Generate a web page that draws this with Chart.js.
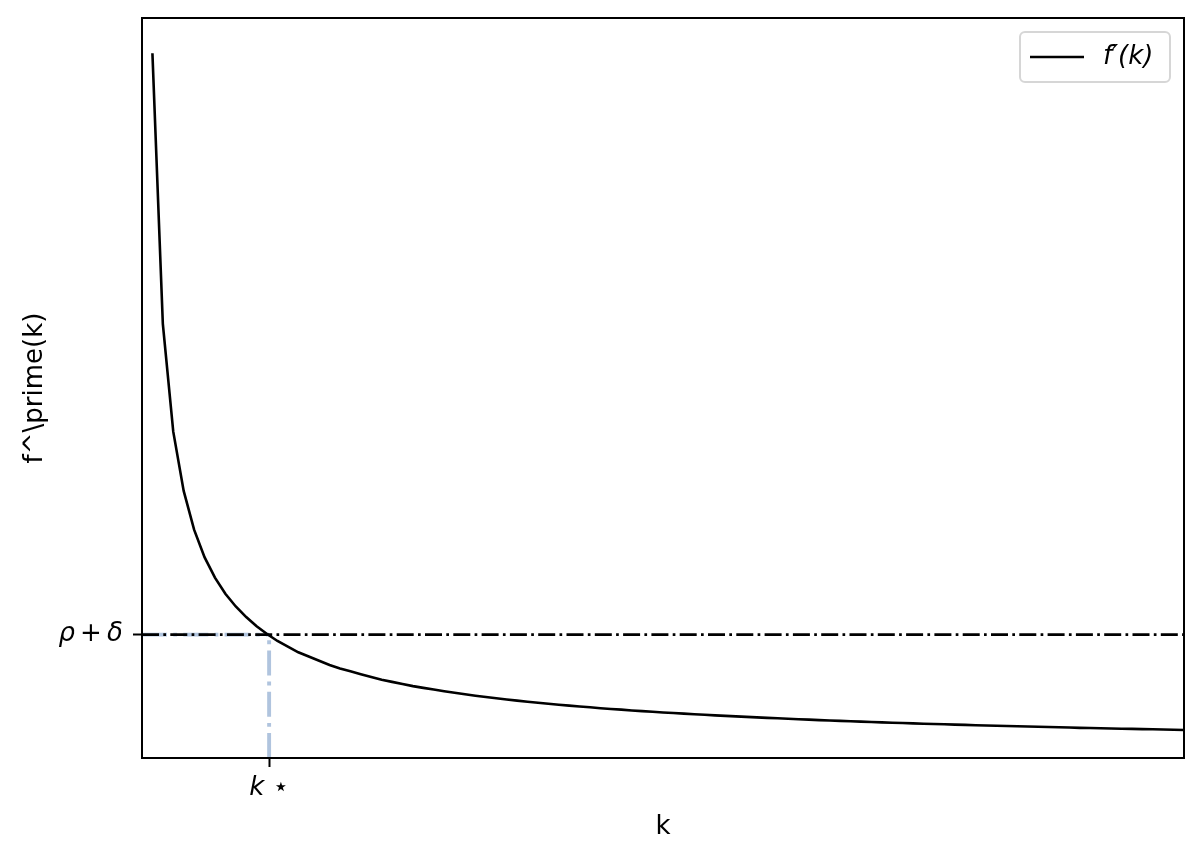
<!DOCTYPE html>
<html>
<head>
<meta charset="utf-8">
<script src="https://cdn.jsdelivr.net/npm/chart.js@4.4.1/dist/chart.umd.min.js"></script>
<style>
  body { margin: 0; background: #fff; }
  #wrap { width: 1202px; height: 861px; }
</style>
</head>
<body>
<div id="wrap"><canvas id="chart" width="1202" height="861"></canvas></div>
<script>
// values (no numbers on the y axis, so relative units: f'(1) = 1)
const kValues = [
  1, 2, 3, 4, 5, 6, 7, 8, 9, 10, 11, 12, 13, 14, 15, 16, 17, 18, 19, 20,
  21, 22, 23, 24, 25, 26, 27, 28, 29, 30, 31, 32, 33, 34, 35, 36, 37, 38, 39, 40,
  41, 42, 43, 44, 45, 46, 47, 48, 49, 50, 51, 52, 53, 54, 55, 56, 57, 58, 59, 60,
  61, 62, 63, 64, 65, 66, 67, 68, 69, 70, 71, 72, 73, 74, 75, 76, 77, 78, 79, 80,
  81, 82, 83, 84, 85, 86, 87, 88, 89, 90, 91, 92, 93, 94, 95, 96, 97, 98, 99, 100
];
const fPrime = [
  1.000, 0.616, 0.463, 0.379, 0.324, 0.285, 0.256, 0.233, 0.215, 0.200,
  0.187, 0.176, 0.166, 0.158, 0.150, 0.144, 0.138, 0.132, 0.127, 0.123,
  0.119, 0.115, 0.111, 0.108, 0.105, 0.102, 0.0995, 0.0971, 0.0947, 0.0925,
  0.0904, 0.0884, 0.0865, 0.0847, 0.0830, 0.0814, 0.0799, 0.0784, 0.0769, 0.0756,
  0.0743, 0.0731, 0.0719, 0.0707, 0.0696, 0.0686, 0.0675, 0.0665, 0.0656, 0.0646,
  0.0638, 0.0629, 0.0621, 0.0613, 0.0605, 0.0598, 0.0590, 0.0583, 0.0576, 0.0569,
  0.0563, 0.0557, 0.0550, 0.0544, 0.0538, 0.0533, 0.0527, 0.0521, 0.0516, 0.0511,
  0.0506, 0.0501, 0.0496, 0.0492, 0.0487, 0.0482, 0.0478, 0.0473, 0.0470, 0.0465,
  0.0461, 0.0457, 0.0454, 0.0450, 0.0446, 0.0443, 0.0439, 0.0436, 0.0432, 0.0428,
  0.0425, 0.0422, 0.0419, 0.0416, 0.0413, 0.0410, 0.0407, 0.0404, 0.0401, 0.0398
];
const rhoDelta = 0.175;
const kStar = 12.2;
const xLimits = [0, 100];
const yLimits = [0, 1.05];
const xTickLabels = ['k ⋆'];
const yTickLabels = ['ρ\u2009+\u2009δ'];

const FONT = 'DejaVu Sans';

const curve = kValues.map((k, i) => ({ x: k, y: fPrime[i] }));

// box around the plot, like the matplotlib spines
const framePlugin = {
  id: 'frame',
  afterDatasetsDraw(chart) {
    const { ctx, chartArea: a } = chart;
    ctx.save();
    ctx.strokeStyle = '#000';
    ctx.lineWidth = 2;
    ctx.strokeRect(a.left, a.top, a.right - a.left, a.bottom - a.top);
    ctx.restore();
  }
};

// matplotlib style legend box in the upper right corner
const boxLegend = {
  id: 'boxLegend',
  afterDraw(chart) {
    const { ctx, chartArea: a } = chart;
    const items = chart.data.datasets.filter(d => d.inLegend);
    const w = 150, h = 50;
    const x = a.right - 14 - w, y = a.top + 14;
    ctx.save();
    ctx.beginPath();
    ctx.roundRect(x, y, w, h, 5);
    ctx.fillStyle = 'rgba(255,255,255,0.8)';
    ctx.fill();
    ctx.strokeStyle = '#d6d6d6';
    ctx.lineWidth = 2;
    ctx.stroke();
    items.forEach((d, i) => {
      const cy = y + h / 2 + i * 34;
      ctx.beginPath();
      ctx.strokeStyle = d.borderColor;
      ctx.lineWidth = d.borderWidth;
      ctx.moveTo(x + 10, cy);
      ctx.lineTo(x + 64, cy);
      ctx.stroke();
      ctx.fillStyle = '#000';
      ctx.font = 'italic 26px ' + FONT;
      ctx.textBaseline = 'middle';
      ctx.fillText(d.label, x + 83, cy);
    });
    ctx.restore();
  }
};

new Chart(document.getElementById('chart'), {
  type: 'line',
  data: {
    datasets: [
      {
        label: 'f′(k)',
        inLegend: true,
        data: curve,
        borderColor: '#000',
        borderWidth: 2.6,
        pointRadius: 0,
        tension: 0
      },
      {
        label: 'rho + delta',
        data: [{ x: xLimits[0], y: rhoDelta }, { x: xLimits[1], y: rhoDelta }],
        borderColor: '#000',
        borderWidth: 2.6,
        borderDash: [17, 4.3, 2.7, 4.3],
        pointRadius: 0
      },
      {
        label: 'k star vertical',
        data: [{ x: kStar, y: yLimits[0] }, { x: kStar, y: rhoDelta }],
        borderColor: '#b0c4de',
        borderWidth: 3.9,
        borderDash: [25, 6.2, 3.9, 6.2],
        pointRadius: 0
      },
      {
        label: 'k star horizontal',
        data: [{ x: xLimits[0], y: rhoDelta }, { x: kStar, y: rhoDelta }],
        borderColor: '#b0c4de',
        borderWidth: 3.9,
        borderDash: [25, 6.2, 3.9, 6.2],
        pointRadius: 0
      }
    ]
  },
  options: {
    responsive: false,
    animation: false,
    devicePixelRatio: 1,
    layout: { padding: { top: 18, right: 18, left: 0, bottom: 0 } },
    plugins: {
      legend: { display: false },
      tooltip: { enabled: false }
    },
    scales: {
      x: {
        type: 'linear',
        min: xLimits[0],
        max: xLimits[1],
        afterBuildTicks: s => { s.ticks = [{ value: kStar }]; },
        afterFit: s => { s.height = 103; s.paddingLeft = 0; s.paddingRight = 0; },
        ticks: {
          callback: (v, i) => xTickLabels[i],
          font: { family: FONT, size: 26, style: 'italic' },
          color: '#000',
          padding: 6,
          maxRotation: 0
        },
        grid: { drawOnChartArea: false, drawTicks: true, tickLength: 9, tickWidth: 2, tickColor: '#000' },
        border: { display: false },
        title: {
          display: true,
          text: 'k',
          font: { family: FONT, size: 26 },
          color: '#000',
          padding: { top: 0, bottom: 18 }
        }
      },
      y: {
        min: yLimits[0],
        max: yLimits[1],
        afterBuildTicks: s => { s.ticks = [{ value: rhoDelta }]; },
        afterFit: s => { s.width = 142; s.paddingTop = 0; s.paddingBottom = 0; },
        ticks: {
          callback: (v, i) => yTickLabels[i],
          font: { family: FONT, size: 26, style: 'italic' },
          color: '#000',
          padding: 10
        },
        grid: { drawOnChartArea: false, drawTicks: true, tickLength: 9, tickWidth: 2, tickColor: '#000' },
        border: { display: false },
        title: {
          display: true,
          text: 'f^\\prime(k)',
          font: { family: FONT, size: 26 },
          color: '#000',
          padding: { top: 20, bottom: 0 }
        }
      }
    }
  },
  plugins: [framePlugin, boxLegend]
});
</script>
</body>
</html>
